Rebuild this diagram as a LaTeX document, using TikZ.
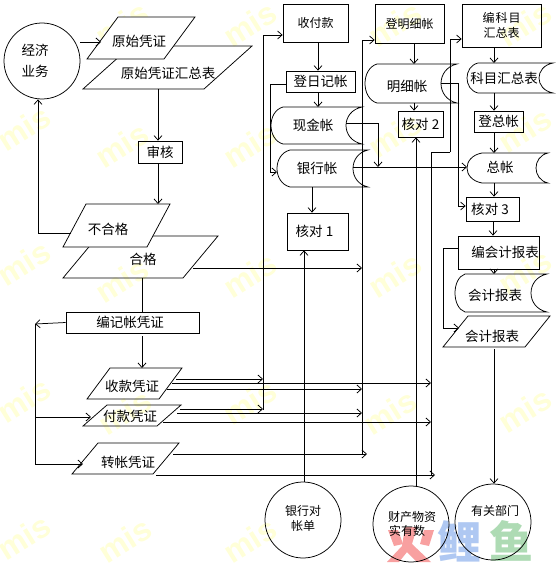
\documentclass[tikz,border=0pt]{standalone}
\usepackage{fontspec}
\setmainfont{Noto Sans CJK SC}
\newfontfamily\wmfont{Liberation Sans}
\usetikzlibrary{arrows.meta,calc}
\definecolor{wm}{HTML}{FFFFD8}
\definecolor{logored}{HTML}{F8A0A0}
\definecolor{logoblue}{HTML}{AFC8F2}
\definecolor{logogreen}{HTML}{AEDBB4}
\tikzset{
  line/.style={draw=black,line width=0.75pt},
  arr/.style={line,-{Straight Barb[length=4.5pt,width=8pt,line width=0.75pt]}},
  shapeline/.style={draw=black,line width=0.75pt,line join=miter},
  lbl/.style={inner sep=0pt,font=\fontsize{13.5}{16}\selectfont,align=center},
  small/.style={inner sep=0pt,font=\fontsize{12}{15}\selectfont,align=center},
  watermark/.style={text=wm,rotate=32,font=\wmfont\bfseries\fontsize{32}{32}\selectfont},
}
% rectangle box: name, x1, y1, x2, y2, text, text style
\newcommand\rectbox[7][lbl]{%
  \pgfmathsetmacro\cx{(#3+#5)/2}\pgfmathsetmacro\cy{(#4+#6)/2}%
  \pgfmathsetmacro\ww{#5-#3}\pgfmathsetmacro\hh{#6-#4}%
  \node[shapeline,rectangle,minimum width=\ww pt,minimum height=\hh pt,#1] (#2) at (\cx,\cy) {#7};%
}
% parallelogram: [style] name, bl, br, slant, ytop, ybot, text pos, text
\newcommand\pgram[9][]{%
  \pgfmathsetmacro\cx{(#3+#4+#5)/2}\pgfmathsetmacro\cy{(#6+#7)/2}%
  \pgfmathsetmacro\ww{#4+#5-#3}\pgfmathsetmacro\hh{#7-#6}%
  \pgfmathsetmacro\tl{#3+#5}\pgfmathsetmacro\tr{#4+#5}%
  \path[shapeline,#1] (#3,#7) -- (\tl,#6) -- (\tr,#6) -- (#4,#7) -- cycle;%
  \node[inner sep=0pt,outer sep=0pt,minimum width=\ww pt,minimum height=\hh pt] (#2) at (\cx,\cy) {};%
  \node[lbl] (#2-t) at (#8) {#9};%
}
% stored-data shape: name, xl, xt, xa, xe, ytop, ybot, text pos, text
\newcommand\docshape[9]{%
  \pgfmathsetmacro\cx{(#2+#5)/2}\pgfmathsetmacro\cy{(#6+#7)/2}%
  \pgfmathsetmacro\ww{#5-#2}\pgfmathsetmacro\hh{#7-#6}%
  \pgfmathsetmacro\lc{#3-(#3-#2)*4/3}\pgfmathsetmacro\rc{#5-(#5-#4)*4/3}%
  \pgfmathsetmacro\ya{#6+(#7-#6)*.12}\pgfmathsetmacro\yb{#7-(#7-#6)*.12}%
  \path[shapeline] (#3,#6) -- (#5,#6) .. controls (\rc,\ya) and (\rc,\yb) .. (#5,#7)
     -- (#3,#7) .. controls (\lc,\yb) and (\lc,\ya) .. (#3,#6);%
  \node[inner sep=0pt,outer sep=0pt,minimum width=\ww pt,minimum height=\hh pt] (#1) at (\cx,\cy) {};%
  \node[lbl] (#1-t) at (#8) {#9};%
}
\begin{document}
\begin{tikzpicture}[x=1pt,y=-1pt]
\useasboundingbox[fill=white] (0,0) rectangle (556,567);
% watermark
\foreach \wx/\wy in {24/128,122/145,122/24,250/24,250/145,395/135,525/130,395/275,525/272,24/263,122/280,250/275,24/400,125/412,250/402,390/412,525/410,24/537,125/540,250/540,395/24,525/24}
  \node[watermark] (wm-\wx-\wy) at (\wx,\wy) {mis};
% logo
\fill[logored] (388,530) -- (398,530) -- (403,544) -- (394,546) -- cycle;
\fill[logored] (424,530) -- (434,530) -- (429,546) -- (420,544) -- cycle;
\fill[logored] (405,527) -- (417,527) -- (412,544) -- (431,562) -- (417,562) -- (407,552) -- (399,562) -- (387,562) -- (402,546) -- cycle;
\node[text=logoblue,font=\bfseries\fontsize{44}{44}\selectfont,inner sep=0pt] (lg1) at (459,541) {鲤};
\node[text=logogreen,font=\bfseries\fontsize{44}{44}\selectfont,inner sep=0pt] (lg2) at (511,541) {鱼};

% circles
\node[shapeline,circle,minimum size=76pt,inner sep=0pt] (jj) at (42,61) {};
\node[lbl] (jj-a) at (35,50) {经济};
\node[lbl] (jj-b) at (35,71) {业务};
\node[shapeline,circle,minimum size=76pt,inner sep=0pt] (yh) at (303,520) {};
\node[small] (yh-t) at (303,518.5) {银行对\\帐单};
\node[shapeline,circle,minimum size=76pt,inner sep=0pt] (cc) at (411,524) {};
\node[small] (cc-a) at (412,517) {财产物资};
\node[small] (cc-b) at (407,530.5) {实有数};
\node[shapeline,circle,minimum size=76pt,inner sep=0pt] (yg) at (493,522) {};
\node[small] (yg-t) at (495,511) {有关部门};

% left column
\pgram{yshz}{83}{204}{48}{46}{89}{168,73}{原始凭证汇总表}
\pgram[fill=white]{ys}{87}{164}{31}{17}{59}{139,41}{原始凭证}
\rectbox{sh}{138}{141}{182}{163}{审核}
\pgram{hg}{63}{183}{35}{236}{278}{143,259}{合格}
\pgram[fill=white]{bhg}{63}{147}{23}{204}{247}{108,229}{不合格}
\rectbox{bj}{66}{312}{199}{333}{\hspace*{-5pt}编记帐凭证}
\pgram{sk}{87}{159}{23}{368}{399}{132,386}{收款凭证}
\pgram{fk}{83}{157}{24}{405}{426}{130,416}{付款凭证}
\pgram{zz}{72}{153}{26}{443}{474}{128,462}{转帐凭证}

% first column
\rectbox[small]{sfk}{283}{4}{348}{42}{收付款}
\rectbox{drj}{286}{71}{355}{92}{登日记帐}
\docshape{xj}{271}{283}{346}{362}{107}{144}{313,125}{现金帐}
\docshape{yhz}{277}{290}{353}{368}{150}{187}{317,168}{银行帐}
\rectbox{hd1}{287}{213}{348}{250}{\hspace*{-6pt}核对 1}

% second column
\rectbox[small]{dmx}{375}{4}{444}{43}{登明细帐}
\docshape{mx}{365}{377}{441}{457}{64}{103}{407,86}{明细帐}
\rectbox{hd2}{398}{111}{443}{137}{核对 2}

% third column
\rectbox[small]{bkm}{462}{4}{541}{47}{编\hspace{1pt}科\hspace{1pt}目\\汇总表}
\docshape{km}{467}{478}{539}{553}{63}{93}{504,78}{科目汇总表}
\rectbox{dz}{474}{111}{523}{132}{登总帐}
\docshape{zzh}{467}{482}{536}{548}{153}{183}{500,167}{总帐}
\rectbox{hd3}{466}{197}{519}{221}{\hspace*{-5pt}核对 3}
\rectbox{bhb}{458}{236}{539}{269}{\hspace*{13pt}编会计报表}
\docshape{kb}{455}{465}{531}{547}{274}{312}{495,295}{会计报表}
\pgram{kbp}{443}{525}{25}{316}{347}{492,336}{会计报表}

% route points
\coordinate (v1top) at (263,35);
\coordinate (v1bot) at (263,410);
\coordinate (v2top) at (362,40);
\coordinate (v2bot) at (362,454);
\coordinate (v3top) at (431,152);
\coordinate (v3bot) at (431,476);
\coordinate (v4) at (450,152);
\coordinate (v0top) at (35,324);
\coordinate (v0bot) at (35,464);
\coordinate (xjout) at (346,123);
\coordinate (xjin) at (378,167);
\coordinate (yhout) at (353,167);
\coordinate (mxout) at (441,83);

% connectors, left
\draw[arr] (jj.east |- 74,42) -- (101,42);
\draw[arr] (yshz.south -| 158,0) -- (sh.north -| 158,0);
\draw[arr] (sh.south -| 158,0) -- (bhg.north -| 158,0);
\draw[arr] (71,233) -| (jj.south -| 38,0);
\draw[line] (hg.south -| 142,0) -- (bj.north -| 142,0);
\draw[arr] (142,336) -- (sk.north -| 142,0);
\draw[arr] (bj.west) -- (v0top);
\draw[line] (v0top) -- (v0bot);
\draw[arr] (35,417) -- (91,417);
\draw[arr] (v0bot) -- (83,464);
% from vouchers
\draw[arr] (176,379) -- (263,379);
\draw[arr] (172,383) -- (431,383);
\draw[arr] (167,389) -- (362,389);
\draw[arr] (180,409) -- (263,409);
\draw[arr] (177,413) -- (362,413);
\draw[arr] (163,422) -- (431,422);
\draw[arr] (173,454) -- (367,454);
\draw[arr] (156,475) -- (435,475);
\draw[arr] (193,268) -- (362,268);
% main risers
\draw[line] (v1bot) -- (v1top);
\draw[arr] (v1top) -- (sfk.west |- v1top);
\draw[line] (v2bot) -- (v2top);
\draw[arr] (v2top) -- (dmx.west |- v2top);
\draw[line] (v3bot) -- (v3top) -- (v4);
\draw[arr] (v4) |- (bkm.west |- 0,39);
% first column
\draw[arr] (sfk.south -| 318,0) -- (drj.north -| 318,0);
\draw[arr] (drj.south -| 318,0) -- (xj.north -| 318,0);
\draw[arr] (drj.west |- 0,84) -| (270,172) -- (277,172);
\draw[arr] (yhz.south -| 312,0) -- (hd1.north -| 312,0);
\draw[arr] (yh.north -| 304,0) -- (hd1.south -| 304,0);
\draw[arr] (xjout) -| (xjin);
\draw[arr] (yhout) -- (zzh.west |- yhout);
% second column
\draw[arr] (dmx.south -| 414,0) -- (mx.north -| 414,0);
\draw[arr] (mx.south -| 414,0) -- (hd2.north -| 414,0);
\draw[arr] (cc.north -| 416,0) -- (hd2.south -| 416,0);
\draw[arr] (mxout) -| (458,206) -- (hd3.west |- 0,206);
% third column
\draw[arr] (bkm.south -| 494,0) -- (km.north -| 494,0);
\draw[arr] (km.south -| 494,0) -- (dz.north -| 494,0);
\draw[arr] (dz.south -| 494,0) -- (zzh.north -| 494,0);
\draw[arr] (zzh.south -| 494,0) -- (hd3.north -| 494,0);
\draw[arr] (hd3.south -| 493,0) -- (bhb.north -| 493,0);
\draw[arr] (bhb.south -| 494,0) -- (kb.north -| 494,0);
\draw[arr] (bhb.west |- 0,248) -| (443,328) -- (459,328);
\draw[arr] (494,349) -- (yg.north -| 494,0);
\end{tikzpicture}
\end{document}
